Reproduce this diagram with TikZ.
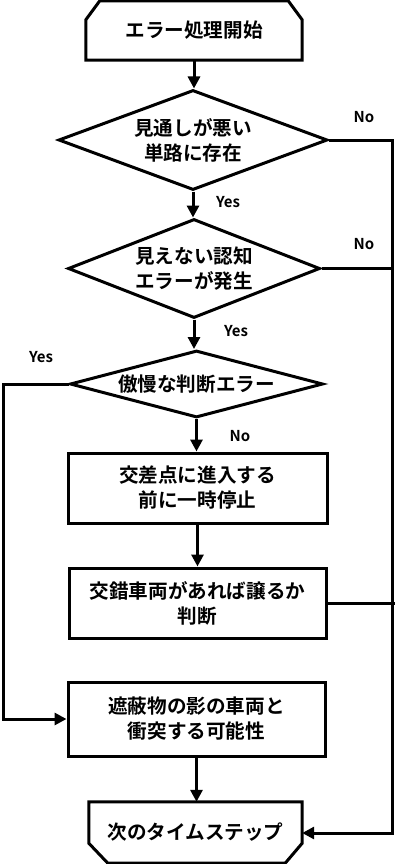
\documentclass[tikz,border=0pt]{standalone}
\usepackage{fontspec}
\newfontfamily\jp{Noto Sans CJK JP}[BoldFont={* Bold}]
\usepackage{tikz}
\usetikzlibrary{shapes.geometric,arrows.meta}

\begin{document}
\begin{tikzpicture}[x=1pt,y=-1pt,
		line/.style={line width=3pt,line join=miter},
		arr/.style={line,-{Triangle[length=12pt,width=12pt]}},
		txt/.style={font=\jp\bfseries\fontsize{19.6}{25}\selectfont,align=center,inner sep=0pt},
		box/.style={txt,rectangle,draw,line width=3pt},
		dec/.style={txt,diamond,draw,line width=3pt},
		lab/.style={font=\jp\bfseries\fontsize{15}{18}\selectfont,inner sep=0pt},
		]
		\useasboundingbox (0,0) rectangle (405,864);
		\node[txt,minimum width=216pt,minimum height=59pt] (S) at (194,30.5) {エラー処理開始};
		\draw[line] ([yshift=-19pt]S.north west) -- ([xshift=14pt]S.north west) -- ([xshift=-14pt]S.north east) -- ([yshift=-19pt]S.north east) -- (S.south east) -- (S.south west) -- cycle;
		\node[dec,minimum width=269pt,minimum height=100pt,aspect=2.69] (D1) at (193,140) {見通しが悪い\\単路に存在};
		\node[dec,minimum width=252pt,minimum height=99pt,aspect=2.55] (D2) at (194,268.5) {見えない認知\\エラーが発生};
		\node[dec,minimum width=253pt,minimum height=67pt,aspect=3.78] (D3) at (196.5,384) {傲慢な判断エラー};
		\node[box,minimum width=259pt,minimum height=70pt] (B1) at (197.5,488) {交差点に進入する\\前に一時停止};
		\node[box,minimum width=257pt,minimum height=70pt] (B2) at (197.5,603) {交錯車両があれば譲るか\\判断};
		\node[box,minimum width=257pt,minimum height=74pt] (B3) at (196.5,719) {遮蔽物の影の車両と\\衝突する可能性};
		\node[txt,minimum width=213pt,minimum height=61pt] (E) at (195.5,832.5) {次のタイムステップ};
		\draw[line] ([yshift=20pt]E.south west) -- ([xshift=19pt]E.south west) -- ([xshift=-17pt]E.south east) -- ([yshift=20pt]E.south east) -- (E.north east) -- (E.north west) -- cycle;
		\node[lab] (N1) at (364,117) {No};
		\node[lab] (N2) at (364,244) {No};
		\node[lab] (N3) at (240,436) {No};
		\node[lab] (Y1) at (228,202) {Yes};
		\node[lab] (Y2) at (236,331) {Yes};
		\node[lab] (Y3) at (41,357) {Yes};
		\coordinate (Rt) at (392,140);
		\coordinate (Rb) at (392,833);
		\coordinate (Lt) at (3,384);
		\coordinate (B2r) at (395,603);
		\draw[arr] (S.south) -- (S.south |- D1.north);
		\draw[arr] (D1.south) -- (D1.south |- D2.north);
		\draw[arr] (D2.south) -- (D2.south |- D3.north);
		\draw[arr] (D3.south) -- (D3.south |- B1.north);
		\draw[arr] (B1.south) -- (B1.south |- B2.north);
		\draw[arr] (B3.south) -- (B3.south |- E.north);
		\draw[arr] (D1.east) -- (Rt) -- (Rb) -- (Rb -| E.east);
		\draw[line] (D2.east) -- (D2.east -| Rt);
		\draw[line] (B2.east) -- (B2r);
		\draw[arr] (D3.west) -- (Lt) |- (B3.west);
	\end{tikzpicture}
\end{document}
